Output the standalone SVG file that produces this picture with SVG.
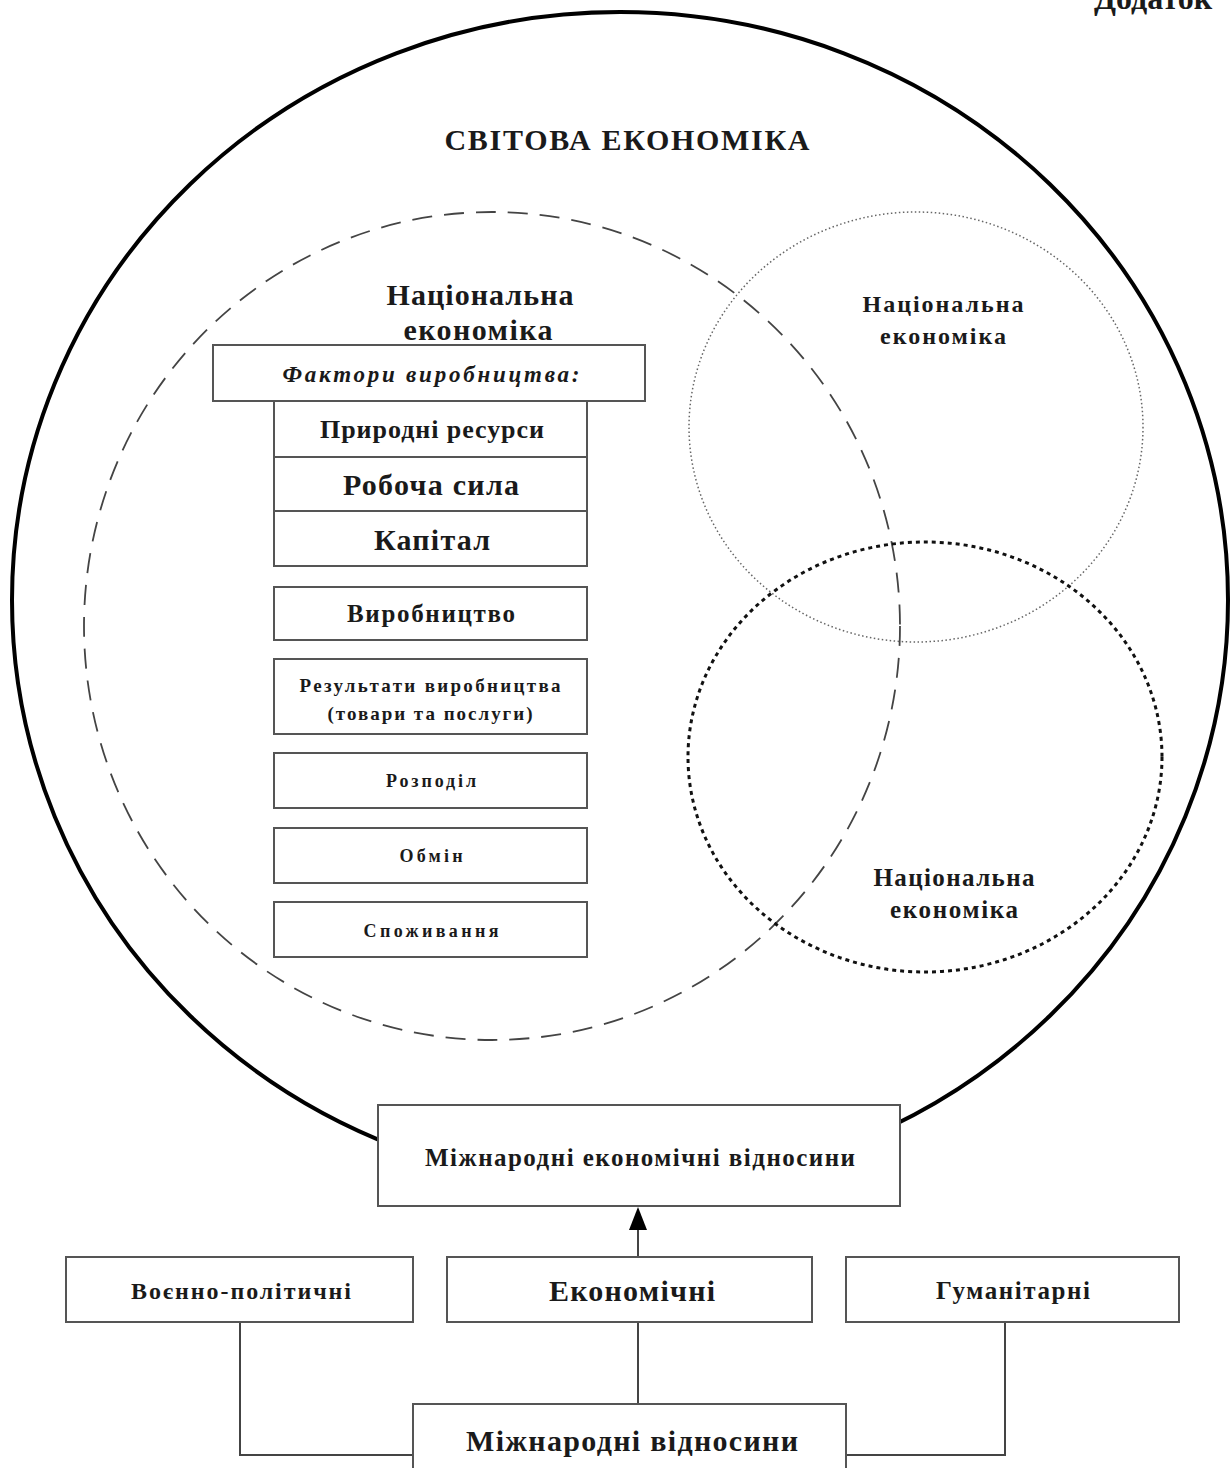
<svg xmlns="http://www.w3.org/2000/svg" width="1232" height="1468" viewBox="0 0 1232 1468">
<style>
text{font-family:"Liberation Serif","Times New Roman",serif;font-weight:bold;fill:#1a1a1a;text-anchor:middle}
.box{fill:#fff;stroke:#555;stroke-width:2}
.ln{fill:none;stroke:#444;stroke-width:2}
</style>
<rect width="1232" height="1468" fill="#fff"/>
<text x="1094" y="9" style="text-anchor:start" font-size="32">Додаток</text>
<g id="world">
<ellipse cx="620" cy="600" rx="608" ry="588" fill="none" stroke="#000" stroke-width="4"/>
<text x="627" y="150" font-size="30" textLength="365">СВІТОВА ЕКОНОМІКА</text>
</g>
<g id="nat1">
<ellipse cx="492" cy="626" rx="408" ry="414" fill="none" stroke="#444" stroke-width="1.8" stroke-dasharray="20 12"/>
<text x="480" y="305" font-size="30" textLength="187">Національна</text>
<text x="478" y="340" font-size="30" textLength="149">економіка</text>
</g>
<g id="nat2">
<ellipse cx="916" cy="427" rx="227" ry="215" fill="none" stroke="#666" stroke-width="1.5" stroke-dasharray="1.5 2.5"/>
<text x="943" y="312" font-size="24" textLength="161">Національна</text>
<text x="943" y="344" font-size="24" textLength="126">економіка</text>
</g>
<g id="nat3">
<ellipse cx="925" cy="757" rx="237" ry="215" fill="none" stroke="#111" stroke-width="3" stroke-dasharray="4 4"/>
<text x="954" y="886" font-size="25" textLength="161">Національна</text>
<text x="954" y="918" font-size="25" textLength="128">економіка</text>
</g>
<g id="factors">
<rect class="box" x="213" y="345" width="432" height="56"/>
<text x="431" y="382" font-size="23" font-style="italic" textLength="297">Фактори виробництва:</text>
</g>
<g id="resources">
<rect class="box" x="274" y="401" width="313" height="56"/>
<text x="432" y="438" font-size="26" textLength="224">Природні ресурси</text>
</g>
<g id="labour">
<rect class="box" x="274" y="457" width="313" height="54"/>
<text x="431" y="495" font-size="30" textLength="176">Робоча сила</text>
</g>
<g id="capital">
<rect class="box" x="274" y="511" width="313" height="55"/>
<text x="432" y="550" font-size="30" textLength="116">Капітал</text>
</g>
<g id="production">
<rect class="box" x="274" y="587" width="313" height="53"/>
<text x="431" y="622" font-size="25" textLength="168">Виробництво</text>
</g>
<g id="results">
<rect class="box" x="274" y="659" width="313" height="75"/>
<text x="430" y="692" font-size="19" textLength="261">Результати виробництва</text>
<text x="430" y="720" font-size="19" textLength="205">(товари та послуги)</text>
</g>
<g id="distribution">
<rect class="box" x="274" y="753" width="313" height="55"/>
<text x="431" y="787" font-size="18" textLength="90">Розподіл</text>
</g>
<g id="exchange">
<rect class="box" x="274" y="828" width="313" height="55"/>
<text x="431" y="862" font-size="18" textLength="63">Обмін</text>
</g>
<g id="consumption">
<rect class="box" x="274" y="902" width="313" height="55"/>
<text x="431" y="937" font-size="18" textLength="135">Споживання</text>
</g>
<g id="connectors">
<line class="ln" x1="638" y1="1257" x2="638" y2="1228"/>
<polygon points="638,1207 647,1230 629,1230" fill="#000"/>
<line class="ln" x1="638" y1="1322" x2="638" y2="1405"/>
<polyline class="ln" points="240,1322 240,1455 413,1455"/>
<polyline class="ln" points="1005,1322 1005,1455 846,1455"/>
</g>
<g id="mev">
<rect class="box" x="378" y="1105" width="522" height="101"/>
<text x="640" y="1166" font-size="25" textLength="430">Міжнародні економічні відносини</text>
</g>
<g id="military">
<rect class="box" x="66" y="1257" width="347" height="65"/>
<text x="241" y="1299" font-size="24" textLength="220">Воєнно-політичні</text>
</g>
<g id="economic">
<rect class="box" x="447" y="1257" width="365" height="65"/>
<text x="632" y="1301" font-size="30" textLength="166">Економічні</text>
</g>
<g id="humanitarian">
<rect class="box" x="846" y="1257" width="333" height="65"/>
<text x="1013" y="1299" font-size="25" textLength="154">Гуманітарні</text>
</g>
<g id="ir">
<rect class="box" x="413" y="1404" width="433" height="80"/>
<text x="632" y="1451" font-size="30" textLength="332">Міжнародні відносини</text>
</g>
</svg>
